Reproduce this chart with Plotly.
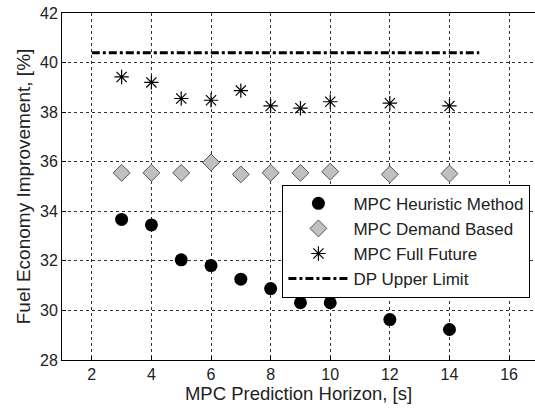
import plotly.graph_objects as go

horizon = [3, 4, 5, 6, 7, 8, 9, 10, 12, 14]
heuristic = [33.67, 33.45, 32.04, 31.81, 31.26, 30.88, 30.31, 30.31, 29.63, 29.23]
demand = [35.55, 35.55, 35.55, 35.97, 35.49, 35.55, 35.55, 35.6, 35.49, 35.52]
full_future = [39.42, 39.2, 38.55, 38.48, 38.87, 38.25, 38.16, 38.42, 38.36, 38.25]
dp_x = [2, 15]
dp_y = [40.4, 40.4]

x_ticks = [2, 4, 6, 8, 10, 12, 14, 16]
y_ticks = [28, 30, 32, 34, 36, 38, 40, 42]

font = "Liberation Sans, Arial, sans-serif"

fig = go.Figure()
fig.add_trace(go.Scatter(x=horizon, y=heuristic, mode="markers", name="MPC Heuristic Method",
                         marker=dict(symbol="circle", size=13, color="black", line=dict(width=0))))
fig.add_trace(go.Scatter(x=horizon, y=demand, mode="markers", name="MPC Demand Based",
                         marker=dict(symbol="diamond", size=13, color="#c0c0c0",
                                     line=dict(width=1, color="#555555"))))
fig.add_trace(go.Scatter(x=horizon, y=full_future, mode="markers", name="MPC Full Future",
                         marker=dict(symbol="asterisk-open", size=12, color="black",
                                     line=dict(width=1.2, color="black"))))
fig.add_trace(go.Scatter(x=dp_x, y=dp_y, mode="lines", name="DP Upper Limit",
                         line=dict(color="black", width=3, dash="8px,3px,3px,3px")))

axis_common = dict(showline=True, linecolor="black", linewidth=1, mirror=True,
                   showgrid=True, gridcolor="#333333", gridwidth=1, griddash="3px,3px",
                   zeroline=False, ticks="inside", ticklen=4, tickcolor="black",
                   tickfont=dict(family=font, size=16, color="#222222"))

fig.update_layout(
    width=535, height=410,
    margin=dict(l=62, r=0, t=13, b=50),
    paper_bgcolor="white", plot_bgcolor="white",
    font=dict(family=font, size=16, color="#222222"),
    xaxis=dict(range=[1, 16.87], tickvals=x_ticks,
               title=dict(text="MPC Prediction Horizon, [s]", standoff=2,
                          font=dict(family=font, size=18.5, color="#222222")),
               **axis_common),
    yaxis=dict(range=[28, 42], tickvals=y_ticks,
               title=dict(text="Fuel Economy Improvement, [%]", standoff=4,
                          font=dict(family=font, size=19, color="#222222")),
               **axis_common),
    legend=dict(x=0.466, y=0.505, xanchor="left", yanchor="top",
                bgcolor="white", bordercolor="black", borderwidth=1,
                font=dict(family=font, size=17, color="#222222"),
                itemwidth=60, tracegroupgap=0),
    showlegend=True,
)

fig.write_html("out.html")
